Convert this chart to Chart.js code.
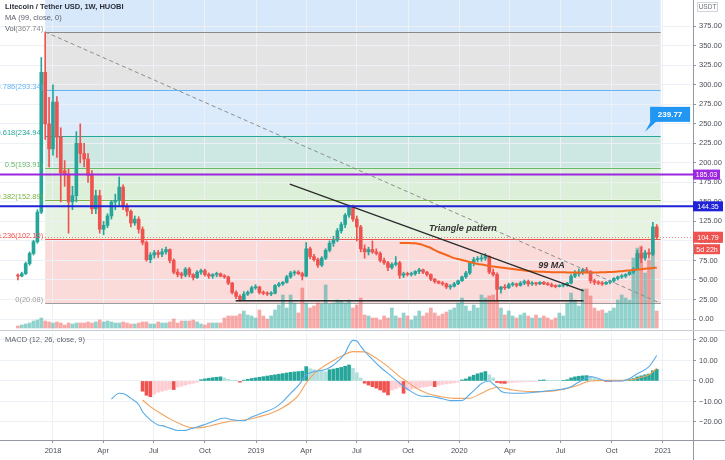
<!DOCTYPE html>
<html>
<head>
<meta charset="utf-8">
<script src="https://cdn.jsdelivr.net/npm/chart.js@4.4.1/dist/chart.umd.min.js"></script>
<style>
  html, body { margin: 0; padding: 0; background: #fff; }
  #wrap { position: relative; width: 725px; height: 460px; overflow: hidden; }
  #main { position: absolute; left: 0; top: 0; }
  #macd { position: absolute; left: 0; top: 331px; }
</style>
</head>
<body>
<div id="wrap">
  <canvas id="main" width="725" height="331"></canvas>
  <canvas id="macd" width="725" height="129"></canvas>
</div>
<script>
// weekly LTC/USDT candles, week index counted from 1 Jan 2018 (first bar = week -9)
const firstWeek = -9;
const opens = [
  56,55,58,71,84,99,137,316,250,218,
  278,233,190,185,150,158,225,212,205,184,
  141,158,115,120,132,150,152,169,144,138,
  123,128,115,98,76,82,85,83,86,89,
  75,60,58,56,64,57,53,60,62,57,
  55,57,58,55,54,46,34,29,25,32,
  34,40,41,34,33,32,33,43,45,47,
  54,59,60,58,55,90,80,76,69,78,
  88,97,101,113,121,133,143,128,118,90,
  86,89,86,84,75,72,66,70,72,56,
  58,57,58,61,63,60,57,51,48,46,
  45,41,42,45,49,54,59,72,76,77,
  78,80,60,57,38,41,40,44,45,43,
  46,48,45,46,45,47,45,44,42,41.5,
  43,44,46,55,58,60,63,61,49,47,
  46,45,47,49,52,54,55,57,60,64,
  84,78,85,83,118
];
const highs = [
  58,60,73,86,101,140,335,367.74,284,300,
  285,245,203,192,170,240,250,225,212,190,
  165,165,125,135,152,160,182,172,148,140,
  132,131,118,100,85,88,88,90,92,90,
  77,64,60,66,66,58,62,64,64,59,
  58,60,59,57,55,47,36,31,35,36,
  42,44,42,36,35,35,44,47,48,56,
  61,62,62,60,98,92,83,78,80,90,
  100,106,116,124,135,146,146,132,120,95,
  92,100,90,86,78,74,72,80,74,60,
  60,60,62,65,64,61,58,52,49,48,
  46,44,47,50,55,61,74,79,80,82,
  84,81,64,59,42,44,46,47,46,48,
  50,50,48,47,48,48,47,46,44,44,
  45,47,57,62,64,65,66,62,51,49,
  48,48,50,53,55,57,58,62,66,88,
  92,88,90,124,121
];
const lows = [
  50,54,57,69,82,97,135,230,195,210,
  207,150,170,110,140,150,200,195,175,135,
  135,110,108,117,128,140,145,140,132,118,
  120,110,95,74,72,78,79,80,83,72,
  58,54,52,54,54,50,52,57,55,52,
  52,54,54,52,44,32,26,23,24,30,
  33,38,32,31,30,30,32,41,43,46,
  52,56,57,50,54,77,74,66,67,76,
  86,93,99,110,117,130,125,100,86,78,
  82,84,82,73,70,62,64,68,52,53,
  55,55,56,58,58,55,49,46,45,43,
  39,38,41,44,48,52,57,68,73,74,
  75,58,55,24,33,38,39,42,41,42,
  44,42,43,43,44,44,43,41,40,41,
  41,42,45,53,55,57,59,46,44,44,
  43,44,45,47,50,52,53,56,58,63,
  72,75,78,81,103
];
const closes = [
  55,58,71,84,99,137,316,250,218,278,
  233,187,185,150,158,225,212,205,184,141,
  158,115,120,132,150,152,169,144,138,123,
  128,115,98,76,82,85,83,86,89,75,
  60,57,56,64,57,53,60,62,57,55,
  57,58,55,54,46,34,29,25,32,34,
  40,41,34,33,32,33,43,45,47,54,
  59,60,58,55,90,80,76,69,78,88,
  97,101,113,121,133,143,128,118,90,86,
  89,86,84,75,72,66,70,72,56,58,
  57,58,61,63,60,57,51,48,46,45,
  41,42,45,49,54,59,72,76,77,78,
  80,60,57,38,41,40,44,45,43,46,
  48,45,46,45,47,45,44,42,41.5,43,
  44,46,55,58,60,63,61,49,47,46,
  45,47,49,52,54,55,57,60,64,84,
  78,85,83,118,104.79
];
const volumes = [
  2,3,4,5,7,8,10,7,6,5,
  6,5,3,5,4,5,5,5,6,5,
  6,8,6,7,6,5,5,6,5,4,
  4,5,6,6,4,4,6,5,5,6,
  9,5,7,7,7,8,6,4,3,5,
  5,5,5,10,12,12,12,14,17,13,
  12,10,18,12,9,12,18,23,33,20,
  33,25,15,40,25,20,22,25,24,43,
  24,25,28,27,25,28,20,23,30,13,
  12,10,10,8,12,10,20,12,10,15,
  12,8,12,17,12,15,20,15,12,14,
  16,18,20,25,30,22,17,23,20,33,
  30,32,33,28,20,13,17,12,10,13,
  15,12,10,13,10,12,10,8,10,15,
  12,25,35,28,22,39,39,32,20,17,
  18,15,17,20,28,33,30,28,70,80,
  82,55,68,78,17
];

// 99-week moving average, first value at week 89
const maFirstWeek = 89;
const maValues = [
  97.5,97.4,97.3,97.2,97,96,94.7,92.8,91,88.3,
  85.8,83.9,82,80,78,76.8,75.5,74.3,73,71.7,
  70.4,69.8,69,67.9,67.2,66.6,66,65.3,64.7,64,
  63.4,62.7,62.1,61.5,61,60.8,60.6,60.4,60.2,60,
  60,59.9,59.8,59.7,59.6,59.6,59.6,59.6,59.6,59.6,
  59.6,59.7,59.8,60,60.2,60.5,60.9,61.3,61.8,62.3,
  62.8,63.3,63.8,64.3,64.8,65.3,65.8
];

// MACD (12, 26, close, 9)
const histFirstWeek = 23;
const histValues = [
  -5,-7,-7.7,-6.5,-5.5,-5,-4.5,-4,-4.2,-3,
  -2.5,-2,-1.5,-1.1,-0.6,0.6,1,1.3,1.6,1.8,
  2,1.5,0.8,0.3,0.1,-0.6,0.4,0.8,1.2,1.5,
  1.8,2.1,2.4,2.7,3,3.3,3.6,3.9,4.2,4.4,
  4.6,4.8,7,6,5.5,5,4.8,4.5,5.5,5.8,
  6.2,6.6,7.2,7.8,6.2,4,1.5,-1.1,-2,-2.8,
  -3.5,-4.4,-5.5,-6.8,-4.5,-3.8,-3,-6,-4.5,-4,
  -3.6,-3.3,-3,-2.7,-2.4,-2.8,-2,-1.7,-1.4,-1.2,
  -0.9,-0.6,0.5,1,2,2.8,3.5,4,4.6,3,
  1.5,-0.8,-1.1,-1.2,-0.8,-0.7,-0.6,-0.5,-0.4,-0.3,
  -0.3,-0.2,0.4,0.5,0.4,0.3,0.3,0.2,0.3,0.6,
  1.5,2,2.3,2.5,2.6,1.8,1.2,0.8,0.4,-0.2,
  -0.3,-0.3,-0.2,-0.1,0.4,0.7,1.2,2,2.5,3,
  3.4,5,5.7
];
const macdWeeks = [15,17,18,20,22,23,25,27,28,30,32,34,35,37,39,41,44,46,49,51,54,57,59,61,63,
  65,67,69,70,72,75,76,77,78,79,80,82,84,87,89,92,94,97,100,102,105,107,109,110,112,
  113,114,115,117,120,125,130,132,133,135,136,138,139,141,143,146,148,150,151,153,154,155];
const macdValues = [-8.8,-6,-6.1,-8.5,-11.5,-15,-19,-21.5,-21.8,-23,-24.2,-24.1,-23.5,-22.5,-21.2,
  -19.8,-18.1,-18.9,-19.4,-17.6,-15.4,-13,-10.1,-6,-2.2,2.9,4.6,5.2,5.6,7.8,13.5,17.5,19.8,19.5,17,
  14.5,10.5,6.8,2.1,-1.1,-5.2,-7.2,-7.6,-8.7,-9.6,-9.5,-6.5,-3,-1.2,0,-1.5,-3,-5,-5.9,-6,
  -5.2,-4.2,-3.5,-2.8,-0.5,0.5,2.1,1.8,0.5,0,0,1.2,3.5,4.5,7,9.5,12.4];
const signalWeeks = [23,25,28,30,33,35,37,39,41,43,46,48,51,53,56,58,61,63,65,67,69,72,74,77,80,
  82,84,86,89,91,93,96,100,103,107,110,112,114,116,118,121,124,129,134,138,143,148,151,153,155];
const signalValues = [-9.3,-12.5,-16.2,-18.5,-21.2,-22.6,-22.9,-22.5,-21.6,-20.6,-19.5,-19.3,-18.4,
  -17.4,-15.7,-14,-10.5,-7,-1,3.5,6.5,10,12,14.3,14.2,12.3,9.8,7,2.1,-0.5,-3.2,-6,-7.8,-8.5,-8.4,
  -6,-4.2,-3.1,-3.6,-4.4,-5,-5.2,-4.7,-2.6,0,0.3,0.5,1.8,3,6.2];

// fib retracement drawn from the Dec 2017 high to the Dec 2018 low
const fibRatios = ['1', '0.786', '0.618', '0.5', '0.382', '0.236', '0'];
const fibPrices = [367.74, 293.34, 234.94, 193.91, 152.89, 102.10, 20.08];
const fibStartWeek = -2, fibEndWeek = 156;

// other drawings
const levelPrices = [185.03, 144.35];
const targetPrice = 239.77;
const lastPrice = 104.79;
const countdown = '5d 22h';
const triTopWeeks = [60.8, 136.2], triTopPrices = [172.9, 35.9];
const triBaseWeeks = [46.9, 136.2], triBasePrice = 23.5;

// axes
const priceTicks = [0,25,50,75,100,125,150,175,200,225,250,275,300,325,350,375];
const macdTicks = [20,10,0,-10,-20];
const tickDates = ['2018-01-01','2018-04-01','2018-07-01','2018-10-01','2019-01-01','2019-04-01',
  '2019-07-01','2019-10-01','2020-01-01','2020-04-01','2020-07-01','2020-10-01','2021-01-01'];
const tickLabels = ['2018','Apr','Jul','Oct','2019','Apr','Jul','Oct','2020','Apr','Jul','Oct','2021'];

const FONT = '"Liberation Sans", Arial, sans-serif';
const GREEN = '#26a69a', RED = '#ef5350';
const AXIS = '#9598a1', GRID = '#edf0f4', LABEL = '#4a4e59';

const weeks = opens.map((_, i) => firstWeek + i);
const isUp = closes.map((c, i) => c >= opens[i]);
const tickWeeks = tickDates.map(d => (Date.parse(d) - Date.parse('2018-01-01')) / 6048e5);
const xMin = -13.6, xMax = 164.3;

function txt(ctx, s, x, y, o = {}) {
    ctx.font = `${o.style || 'normal'} ${o.weight || 'normal'} ${o.size || 7.5}px ${FONT}`;
    ctx.fillStyle = o.color || LABEL;
    ctx.textAlign = o.align || 'left';
    ctx.textBaseline = 'middle';
    ctx.fillText(s, x, y);
}

function seg(ctx, x1, y1, x2, y2, color, w, dash) {
    ctx.beginPath();
    ctx.setLineDash(dash || []);
    ctx.strokeStyle = color;
    ctx.lineWidth = w;
    ctx.moveTo(x1, y1);
    ctx.lineTo(x2, y2);
    ctx.stroke();
    ctx.setLineDash([]);
}

function tag(ctx, s, x, yc, w, h, bg) {
    ctx.fillStyle = bg;
    ctx.fillRect(x, yc - h / 2, w, h);
    txt(ctx, s, x + w / 2, yc + 0.5, { color: '#fff', align: 'center', size: 7 });
}

function xAxis(showLabels) {
    return {
        type: 'linear', min: xMin, max: xMax, offset: false,
        afterBuildTicks: s => { s.ticks = tickWeeks.map(v => ({ value: v })); },
        afterFit: s => { s.height = showLabels ? 20 : 0; s.paddingLeft = 0; s.paddingRight = 0; },
        ticks: {
            display: showLabels, autoSkip: false, maxRotation: 0, padding: 3,
            callback: (v, i) => tickLabels[i],
            font: { family: FONT, size: 7.5 }, color: LABEL
        },
        grid: { color: GRID, offset: false, drawTicks: showLabels, tickLength: 3, tickColor: AXIS },
        border: { display: showLabels, color: AXIS }
    };
}

function yAxis(min, max, ticks, fmt) {
    return {
        position: 'right', min: min, max: max,
        afterBuildTicks: s => { s.ticks = ticks.map(v => ({ value: v })); },
        afterFit: s => { s.width = 32; s.paddingTop = 0; s.paddingBottom = 0; },
        ticks: { padding: 3, callback: fmt, font: { family: FONT, size: 7.5 }, color: LABEL },
        grid: { color: GRID, drawTicks: true, tickLength: 3, tickColor: AXIS },
        border: { color: AXIS }
    };
}

// ---------- price pane ----------
const fibTopColor = '#d6e8fa';
const fibBandColors = ['#e4e4e4', '#dbebfb', '#cde8e2', '#dcefd8', '#e6f3e1', '#fbdada'];
const fibLineColors = ['#8a8a8a', '#64b5f6', '#26a69a', '#66bb6a', '#7cb342', '#ef5350', '#9e9e9e'];

const mainOverlay = {
    id: 'mainOverlay',
    beforeDraw(chart) {
        const { ctx, chartArea: ca, scales: { x, y } } = chart;
        const x0 = x.getPixelForValue(fibStartWeek), x1 = x.getPixelForValue(fibEndWeek);
        ctx.save();
        ctx.fillStyle = '#fff';
        ctx.fillRect(0, 0, chart.width, chart.height);
        ctx.fillStyle = fibTopColor;
        ctx.fillRect(x0, ca.top, x1 - x0, y.getPixelForValue(fibPrices[0]) - ca.top);
        for (let i = 0; i < fibPrices.length - 1; i++) {
            const a = y.getPixelForValue(fibPrices[i]), b = y.getPixelForValue(fibPrices[i + 1]);
            ctx.fillStyle = fibBandColors[i];
            ctx.fillRect(x0, a, x1 - x0, b - a);
        }
        ctx.restore();
    },
    beforeDatasetsDraw(chart) {
        const { ctx, scales: { x, y } } = chart;
        const x0 = x.getPixelForValue(fibStartWeek), x1 = x.getPixelForValue(fibEndWeek);
        ctx.save();
        fibPrices.forEach((p, i) => {
            const py = Math.round(y.getPixelForValue(p)) + 0.5;
            seg(ctx, x0, py, x1, py, fibLineColors[i], 1);
        });
        ctx.restore();
    },
    afterDatasetsDraw(chart) {
        const { ctx, chartArea: ca, scales: { x, y } } = chart;
        const x0 = x.getPixelForValue(fibStartWeek);
        ctx.save();
        // fib labels, right aligned against the box (clipped by the canvas edge)
        fibPrices.forEach((p, i) => {
            const s = (i === 0 ? '' : fibRatios[i]) + '(' + p.toFixed(2) + ')';
            txt(ctx, s, x0 - 2, y.getPixelForValue(p) - 3, { align: 'right', color: fibLineColors[i] });
        });
        // last price dotted line
        const lp = Math.round(y.getPixelForValue(lastPrice)) + 0.5;
        seg(ctx, ca.left, lp, ca.right, lp, 'rgba(239,83,80,0.7)', 1, [1, 2]);
        // fib trend line
        seg(ctx, x0, y.getPixelForValue(fibPrices[0]), x.getPixelForValue(fibEndWeek),
            y.getPixelForValue(fibPrices[fibPrices.length - 1]), '#8d8d8d', 1, [4, 3]);
        // triangle
        seg(ctx, x.getPixelForValue(triTopWeeks[0]), y.getPixelForValue(triTopPrices[0]),
            x.getPixelForValue(triTopWeeks[1]), y.getPixelForValue(triTopPrices[1]), '#2b2b2b', 1.3);
        const by = y.getPixelForValue(triBasePrice);
        seg(ctx, x.getPixelForValue(triBaseWeeks[0]), by, x.getPixelForValue(triBaseWeeks[1]), by, '#2b2b2b', 1.5);
        // horizontal levels
        const lvlColors = ['#9c27e0', '#1f22d6'];
        levelPrices.forEach((p, i) => {
            const py = y.getPixelForValue(p);
            seg(ctx, ca.left, py, ca.right, py, lvlColors[i], 2);
        });
        // text notes
        txt(ctx, 'Triangle pattern', x.getPixelForValue(96.5), y.getPixelForValue(116.5),
            { size: 9, weight: 'bold', style: 'italic', color: '#333' });
        txt(ctx, '99 MA', x.getPixelForValue(124.6), y.getPixelForValue(67.9),
            { size: 9, weight: 'bold', style: 'italic', color: '#333' });
        ctx.restore();
    },
    afterDraw(chart) {
        const { ctx, chartArea: ca, scales: { x, y } } = chart;
        ctx.save();
        // legend
        txt(ctx, 'Litecoin / Tether USD, 1W, HUOBI', 5, 7, { weight: 'bold', color: '#2a2e39' });
        txt(ctx, 'MA (99, close, 0)', 5, 18, { color: '#5d606b' });
        txt(ctx, 'Vol', 5, y.getPixelForValue(fibPrices[0]) - 3, { color: '#5d606b' });
        // currency box
        ctx.fillStyle = '#fff';
        ctx.fillRect(ca.right + 4.5, 2.5, 20, 9);
        ctx.strokeStyle = '#d1d4dc';
        ctx.lineWidth = 1;
        ctx.strokeRect(ca.right + 4.5, 2.5, 20, 9);
        txt(ctx, 'USDT', ca.right + 14.5, 7.5, { align: 'center', size: 6.5, color: '#6a6d78' });
        // axis tags
        tag(ctx, levelPrices[0].toFixed(2), ca.right, y.getPixelForValue(levelPrices[0]), 27, 10, '#9c27e0');
        tag(ctx, levelPrices[1].toFixed(2), ca.right, y.getPixelForValue(levelPrices[1]), 30, 10, '#1f22d6');
        const ly = y.getPixelForValue(lastPrice);
        tag(ctx, lastPrice.toFixed(2), ca.right, ly, 30, 11, RED);
        tag(ctx, countdown, ca.right + 1, ly + 12, 26, 10, RED);
        // target callout
        const tx = x.getPixelForValue(152), ty = y.getPixelForValue(targetPrice);
        ctx.fillStyle = '#2196f3';
        ctx.beginPath();
        ctx.moveTo(tx, ty);
        ctx.lineTo(tx + 6, ty - 11);
        ctx.lineTo(tx + 12, ty - 11);
        ctx.closePath();
        ctx.fill();
        ctx.fillRect(tx + 5, ty - 25, 40, 15);
        txt(ctx, targetPrice.toFixed(2), tx + 25, ty - 17, { align: 'center', color: '#fff', weight: 'bold', size: 8 });
        // pane separator
        seg(ctx, 0, chart.height - 0.5, chart.width, chart.height - 0.5, '#c9ccd4', 1);
        ctx.restore();
    }
};

new Chart(document.getElementById('main'), {
    type: 'bar',
    data: {
        datasets: [
            {
                type: 'line', order: 0,
                data: maValues.map((v, i) => ({ x: maFirstWeek + i, y: v })),
                borderColor: '#f4661b', borderWidth: 2, pointRadius: 0, tension: 0.3
            },
            {
                order: 1, grouped: false, barThickness: 3, minBarLength: 1,
                data: weeks.map((w, i) => ({ x: w, y: [opens[i], closes[i]] })),
                backgroundColor: isUp.map(u => u ? GREEN : RED), borderWidth: 0
            },
            {
                order: 2, grouped: false, barThickness: 1,
                data: weeks.map((w, i) => ({ x: w, y: [lows[i], highs[i]] })),
                backgroundColor: isUp.map(u => u ? GREEN : RED), borderWidth: 0
            },
            {
                order: 3, grouped: false, barThickness: 3, yAxisID: 'yv',
                data: weeks.map((w, i) => ({ x: w, y: volumes[i] })),
                backgroundColor: isUp.map(u => u ? 'rgba(38,166,154,0.5)' : 'rgba(239,83,80,0.5)'), borderWidth: 0
            }
        ]
    },
    options: {
        responsive: false, animation: false,
        layout: { padding: 0 },
        plugins: { legend: { display: false }, tooltip: { enabled: false } },
        scales: {
            x: xAxis(false),
            y: yAxis(-15.37, 408.7, priceTicks, v => v.toFixed(2)),
            yv: { display: false, min: -3, max: 328 }
        }
    },
    plugins: [mainOverlay]
});

// ---------- MACD pane ----------
const histColors = histValues.map((v, i) => {
    const p = i ? histValues[i - 1] : 0;
    return v >= 0 ? (v > p ? '#26a69a' : '#b2dfdb') : (v < p ? '#ef5350' : '#ffcdd2');
});

const macdOverlay = {
    id: 'macdOverlay',
    afterDraw(chart) {
        const { ctx, chartArea: ca } = chart;
        ctx.save();
        txt(ctx, 'MACD (12, 26, close, 9)', 5, 9, { color: '#5d606b' });
        seg(ctx, ca.right + 0.5, 0, ca.right + 0.5, chart.height, AXIS, 1);
        seg(ctx, 0, ca.bottom + 0.5, chart.width, ca.bottom + 0.5, AXIS, 1);
        ctx.restore();
    }
};

new Chart(document.getElementById('macd'), {
    type: 'bar',
    data: {
        datasets: [
            {
                type: 'line', order: 0,
                data: macdWeeks.map((w, i) => ({ x: w, y: macdValues[i] })),
                borderColor: '#5aaae6', borderWidth: 1.1, pointRadius: 0, cubicInterpolationMode: 'monotone'
            },
            {
                type: 'line', order: 1,
                data: signalWeeks.map((w, i) => ({ x: w, y: signalValues[i] })),
                borderColor: '#f3a35c', borderWidth: 1.1, pointRadius: 0, cubicInterpolationMode: 'monotone'
            },
            {
                order: 2, grouped: false, barThickness: 3,
                data: histValues.map((v, i) => ({ x: histFirstWeek + i, y: v })),
                backgroundColor: histColors, borderWidth: 0
            }
        ]
    },
    options: {
        responsive: false, animation: false,
        layout: { padding: { top: 2 } },
        plugins: { legend: { display: false }, tooltip: { enabled: false } },
        scales: {
            x: xAxis(true),
            y: yAxis(-28.8, 23.4, macdTicks, v => (v < 0 ? '\u2212' : '') + Math.abs(v).toFixed(2))
        }
    },
    plugins: [macdOverlay]
});
</script>
</body>
</html>
